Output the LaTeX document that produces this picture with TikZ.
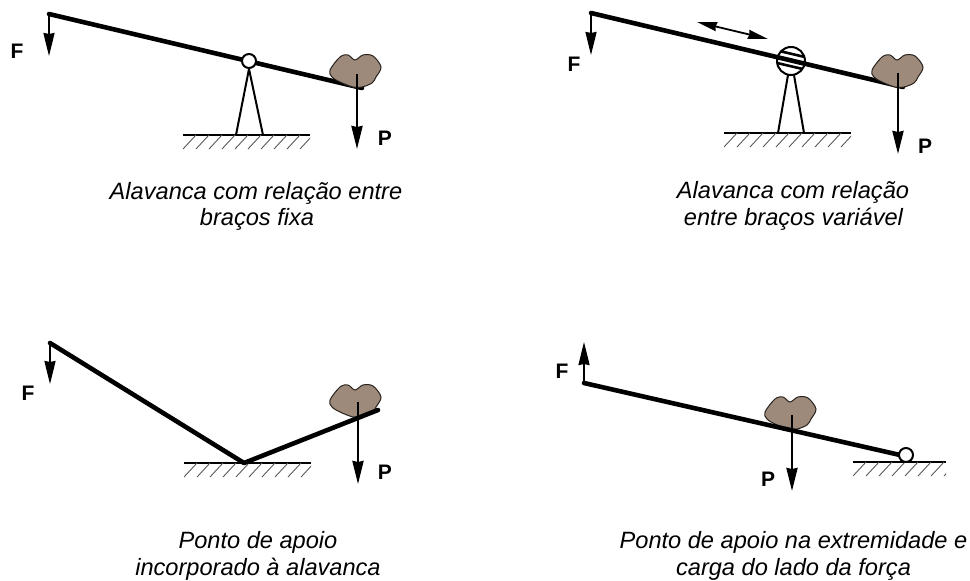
\documentclass[tikz,border=0pt]{standalone}
\usepackage{fontspec}
\setmainfont{Liberation Sans}
\usetikzlibrary{arrows.meta}
\definecolor{rockfill}{RGB}{158,138,122}
\definecolor{rockline}{RGB}{40,34,30}
\tikzset{
  x=1pt,y=-1pt,
  lever/.style={line width=4.6pt,line cap=round,line join=round},
  thinbar/.style={line width=2pt},
  force/.style={line width=2pt,-{Stealth[length=23pt,width=11pt,inset=1pt]}},
  loadforce/.style={line width=2.4pt,-{Stealth[length=23pt,width=11pt,inset=1pt]}},
  ground/.style={line width=1.7pt},
  hatch/.style={line width=.9pt,black!65},
  pivot/.style={circle,draw,fill=white,line width=2pt,inner sep=0pt,minimum size=#1},
  caption/.style={font=\itshape\fontsize{23.6}{26}\selectfont,inner sep=0pt,anchor=base},
  letter/.style={font=\bfseries\fontsize{21}{23}\selectfont,inner sep=0pt},
  pics/rock/.style={code={
    \draw[fill=rockfill,draw=rockline,line width=1pt]
      plot[smooth cycle,tension=.55] coordinates {
        (-25,0) (-15,-13) (-7,-15) (0,-10) (8,-15) (18,-14) (26,-3)
        (21,7) (17,13) (7,17) (-2,17) (-15,12) (-23,7)};
  }},
  pics/soil/.style={code={
    \draw[ground] (0,0) -- (#1,0);
    \clip (0,-1) rectangle (#1,14);
    \foreach \h in {0,13,...,#1}
      \draw[hatch] (\h,14) -- (\h+13,0);
  }}
}
\begin{document}
\begin{tikzpicture}
\useasboundingbox (0,0) rectangle (970,581);

% Fixed arm ratio
\coordinate (a1) at (49,14);
\coordinate (a2) at (362,88);
\coordinate (aF) at (49,56);
\coordinate (aL) at (357,74);
\coordinate (aP) at (357,149);
\coordinate (aG1) at (236,135);
\coordinate (aG2) at (263,135);
\pic at (183,135) {soil=127};
\draw[lever] (a1) -- (a2);
\draw[force] (a1) -- (aF);
\node[pivot=14pt] (ap) at (249,61) {};
\draw[thinbar] (ap.south) -- (aG1);
\draw[thinbar] (ap.south) -- (aG2);
\pic at (355,70) {rock};
\draw[loadforce] (aL) -- (aP);
\node[letter] (aFt) at (17,51) {F};
\node[letter] (aPt) at (385,138) {P};
\node[caption] (ac1) at (256,199) {Alavanca com relação entre};
\node[caption] (ac2) at (257,225) {braços fixa};

% Variable arm ratio
\coordinate (b1) at (591,13);
\coordinate (b2) at (903,87);
\coordinate (bF) at (591,55);
\coordinate (bL) at (898,73);
\coordinate (bP) at (898,154);
\coordinate (bG1) at (778,133);
\coordinate (bG2) at (804,133);
\coordinate (bS1) at (697,22);
\coordinate (bS2) at (768,39);
\coordinate (bT1) at (788,75);
\coordinate (bT2) at (794,75);
\pic at (724,133) {soil=127};
\node[pivot=28pt] (bp) at (791,61) {};
\draw[thinbar] (bT1) -- (bG1);
\draw[thinbar] (bT2) -- (bG2);
\draw[lever] (b1) -- (b2);
\begin{scope}
  \clip (791,61) circle (13.5pt);
  \draw[line width=2.6pt] (775,50) -- (807,57.5);
  \draw[line width=2.6pt] (775,62.5) -- (807,70);
\end{scope}
\draw[force] (b1) -- (bF);
\draw[line width=1.8pt,{Stealth[length=20pt,width=9pt,inset=1pt]}-{Stealth[length=20pt,width=9pt,inset=1pt]}] (bS1) -- (bS2);
\pic at (897,70) {rock};
\draw[loadforce] (bL) -- (bP);
\node[letter] (bFt) at (574,64) {F};
\node[letter] (bPt) at (925,146) {P};
\node[caption] (bc1) at (793,198) {Alavanca com relação};
\node[caption] (bc2) at (793.5,225) {entre braços variável};

% Fulcrum built into the lever
\coordinate (c1) at (50,343);
\coordinate (c2) at (244,463);
\coordinate (c3) at (378,410);
\coordinate (cF) at (50,384);
\coordinate (cL) at (358,402);
\coordinate (cP) at (358,484);
\pic at (184,463) {soil=127};
\pic at (355,400) {rock};
\draw[lever] (c1) -- (c2) -- (c3);
\draw[force] (c1) -- (cF);
\draw[loadforce] (cL) -- (cP);
\node[letter] (cFt) at (28,393) {F};
\node[letter] (cPt) at (385,472) {P};
\node[caption] (cc1) at (258,548) {Ponto de apoio};
\node[caption] (cc2) at (258,575) {incorporado à alavanca};

% Fulcrum at the end, load on the force side
\coordinate (d1) at (584,383);
\coordinate (d2) at (900,455);
\coordinate (dF) at (584,342);
\coordinate (dL) at (792,415);
\coordinate (dP) at (792,491);
\pic at (853,462) {soil=93};
\pic at (790,412) {rock};
\draw[lever] (d1) -- (d2);
\draw[force] (d1) -- (dF);
\draw[loadforce] (dL) -- (dP);
\node[pivot=14pt] (dp) at (906,455) {};
\node[letter] (dFt) at (562,371) {F};
\node[letter] (dPt) at (768,479) {P};
\node[caption] (dc1) at (793.5,548) {Ponto de apoio na extremidade e};
\node[caption] (dc2) at (793.5,575) {carga do lado da força};
\end{tikzpicture}
\end{document}
